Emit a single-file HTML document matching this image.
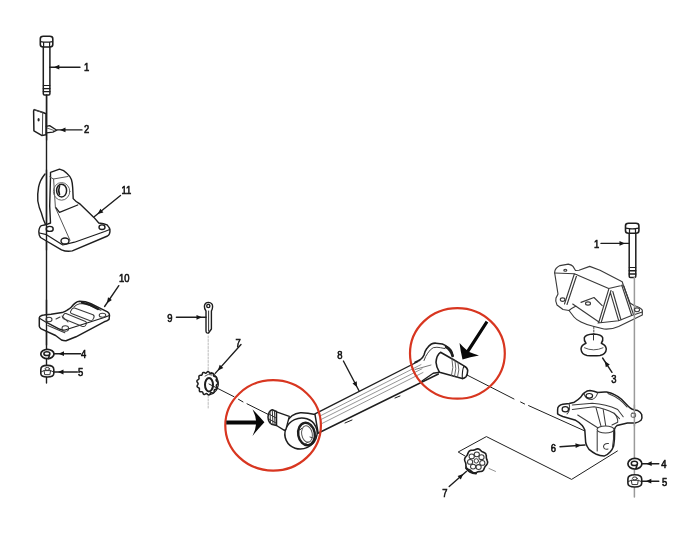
<!DOCTYPE html>
<html><head><meta charset="utf-8">
<style>
html,body{margin:0;padding:0;background:#fff;width:696px;height:550px;overflow:hidden}
svg{display:block;filter:blur(0.3px)}
</style></head><body>
<svg width="696" height="550" viewBox="0 0 696 550">
<g fill="none" stroke="#1e1e1e" stroke-width="1.4" stroke-linejoin="round" stroke-linecap="round">
<line x1="46.5" y1="95" x2="46.5" y2="383" stroke-width="1.4"/>
<rect x="43.3" y="46" width="6.600000000000001" height="49" rx="1.2" fill="#fff" stroke-width="1.5"/>
<path d="M40.3,38.7 Q40.3,36.2 43.3,36.2 L49.8,36.2 Q52.8,36.2 52.8,38.7 L52.8,44.5 Q52.8,47 49.8,47 L43.3,47 Q40.3,47 40.3,44.5 Z" fill="#fff" stroke-width="1.6"/>
<path d="M40.599999999999994,41.6 Q46.55,42.800000000000004 52.5,41.6 M43.599999999999994,42.4 L43.599999999999994,47 M49.6,42.4 L49.6,47" stroke-width="1.2"/>
<line x1="43.3" y1="85.5" x2="49.9" y2="85.5" stroke-width="1.0"/>
<line x1="43.3" y1="88.6" x2="49.9" y2="88.6" stroke-width="1.4"/>
<line x1="43.3" y1="91.6" x2="49.9" y2="91.6" stroke-width="1.4"/>
<line x1="80.0" y1="67.2" x2="49.8" y2="67.2" stroke-width="1.4"/>
<path d="M53.8,67.2 L59.3,64.8 L59.3,69.6 Z" fill="#151515" stroke="none"/>
<path d="M34.2,109.6 L43,112.5 L46,113.8 L46,134.8 L41.7,135.4 L33.9,130.8 L33.6,111 Z" fill="#fff" stroke-width="1.5"/>
<path d="M34.5,110 L42.7,112.5 L42.4,134.8" stroke="#444" stroke-width="1"/>
<ellipse cx="38.6" cy="119.7" rx="1.1" ry="1.8" fill="#222" stroke="none"/>
<path d="M46.3,126.3 L49.6,125.6 L56.8,130.2 L52.9,132.1 L46.3,132.8" fill="#fff" stroke-width="1.3"/>
<path d="M47,128 L54,130.5" stroke="#555" stroke-width="0.9"/>
<line x1="46.6" y1="95" x2="46.6" y2="140" stroke-width="1.4"/>
<line x1="82.0" y1="129.9" x2="57.0" y2="129.9" stroke-width="1.4"/>
<path d="M60.0,129.9 L65.5,127.5 L65.5,132.3 Z" fill="#151515" stroke="none"/>
<path d="M45,174 Q40,180 38.6,187 Q37.3,194 37.8,201 Q39,208 41.4,213 Q42.5,217 43.6,220 L45.6,224.8"/>
<path d="M50.5,172.3 L59.5,169.1 Q64,170 66.8,173.2 Q70,176 71.4,179.5 Q72.5,183 72.7,187.7 L73.2,198.6 Q76,202 80,204 L93.9,217.4 L98.8,223 Q104,223.5 107,224.8 Q110.2,228 110,231 Q109.8,234.8 107.5,236 L72.3,250.9 Q66.5,252 61.5,249.8 L40.5,237.5 Q38.7,235 38.8,231.5 Q39.3,226.5 41.5,225.6 L45.6,224.8 L50.5,223 L49.7,206 L50.5,177.3 Z" fill="#fff"/>
<line x1="46.5" y1="170" x2="46.5" y2="250" stroke-width="1.4"/>
<path d="M49.8,176.8 L53.4,179 L68,176.5 M53.6,179 L55.4,207.5 L70,240.3" stroke="#555" stroke-width="1"/>
<path d="M55.9,207.7 L59.5,212.3 L77.7,205" stroke-width="1.3"/>
<ellipse cx="61.6" cy="191.4" rx="8.2" ry="8.8" stroke="#666" stroke-width="1"/>
<ellipse cx="61.6" cy="190.6" rx="5" ry="6.4" stroke-width="1.5"/>
<path d="M59.5,186.5 Q57.8,190.5 59.5,194.5" stroke-width="1.6"/>
<ellipse cx="49.7" cy="228.9" rx="3.5" ry="2.5"/>
<ellipse cx="65" cy="241" rx="4" ry="3"/>
<ellipse cx="102" cy="227.2" rx="3" ry="2.3"/>
<path d="M39.5,233 L46.5,234.7 L62.8,245 L74.5,242.2 L104.7,231.5 L109.8,229.5" stroke-width="1.2"/>
<line x1="120.5" y1="195.5" x2="94.5" y2="216.5" stroke-width="1.4"/>
<path d="M97.6,214.0 L100.4,208.7 L103.4,212.4 Z" fill="#151515" stroke="none"/>
<path d="M39.9,316.5 Q41.5,315 43.8,314.9 L51,314.2 L62.1,312.6 Q65.5,311.5 67.4,310 Q70,308.5 71.4,307 Q73.5,304.5 75.5,302.9 Q77.5,301.3 79.6,301.3 L85.3,301.7 Q88.5,302.5 91,303.7 L100.9,308.7 L107.5,311.9 Q109.5,313.2 109.5,315.2 L109.1,319.3 Q107,321 104.2,321.8 L76,336.8 L66,340.7 Q63.5,340.8 61.5,340 L55.6,335.5 L41.2,328.9 Q39.3,327.5 39.3,326.3 L39.3,317.8 Z" fill="#fff" stroke-width="1.5"/>
<line x1="46.5" y1="300" x2="46.5" y2="345" stroke-width="1.4"/>
<path d="M39.9,318.5 L46.5,322.4 L58.9,328.9 Q62,330.5 65,330 L104.2,317.5 L109.3,315.5" stroke-width="1.2"/>
<g stroke="#3a3a3a" stroke-width="1.05">
<path d="M73.9,307 Q76.5,304.2 79.6,303.7 L86.1,303.7 L100.9,310.3"/>
<path d="M74.5,308 L93,314.8 Q95,316 93.5,318.5 L92.5,320 Q91.5,321 89.5,320.5 L71.5,313.5 Q69.8,312.5 70.8,311 L72,309 Q73,307.8 74.5,308 Z"/>
<path d="M66,313.5 L85.5,321.5 Q87.2,322.5 86,324.5 L85,326 Q84,327 82,326.3 L63.5,318.8 Q62,318 62.8,316.3 L63.8,314.5 Q64.5,313.2 66,313.5 Z"/>
<path d="M47.8,325.6 L64.8,332.8 M62,316 L68,322 M56,319 L60,317"/>
<ellipse cx="102.5" cy="315.2" rx="3.3" ry="2"/>
<ellipse cx="49" cy="319.5" rx="3" ry="2.2"/>
<ellipse cx="65.3" cy="328.5" rx="3.3" ry="2.8"/>
</g>
<path d="M82,302.6 Q90,304 98,309" stroke-width="2.2"/>
<line x1="118.8" y1="285.7" x2="104.6" y2="306.5" stroke-width="1.4"/>
<path d="M106.9,303.2 L108.0,297.3 L111.9,300.0 Z" fill="#151515" stroke="none"/>
<ellipse cx="47.4" cy="354" rx="6.6" ry="4.6" fill="#fff" stroke-width="1.7"/>
<ellipse cx="46.9" cy="353.7" rx="3.0" ry="1.9" stroke-width="1.5"/>
<path d="M48.4,358.6 L49.4,355.38" stroke-width="1.6"/>
<line x1="80.6" y1="353.7" x2="54.5" y2="353.7" stroke-width="1.4"/>
<path d="M58.5,353.7 L64.0,351.3 L64.0,356.1 Z" fill="#151515" stroke="none"/>
<path d="M40.8,369.46 Q40.8,365.4 47.3,365.4 Q53.8,365.4 53.8,369.46 L53.8,373.52 Q53.8,377.0 47.3,377.0 Q40.8,377.0 40.8,373.52 Z" fill="#fff" stroke-width="1.6"/>
<path d="M41.3,371.78 L44.05,370.62 L50.55,370.62 L53.3,371.78 M44.05,370.62 L44.699999999999996,374.68 L49.9,374.68 L50.55,370.62" stroke="#333" stroke-width="1"/>
<ellipse cx="47.3" cy="368.88" rx="2.3" ry="1.4" stroke="#333" stroke-width="1"/>
<line x1="77.4" y1="372.0" x2="54.0" y2="372.0" stroke-width="1.4"/>
<path d="M58.0,372.0 L63.5,369.6 L63.5,374.4 Z" fill="#151515" stroke="none"/>
<path d="M206,331 L206,311 Q204.2,309 204.4,306 Q205,302.4 208.5,302.4 Q212.6,302.8 212.6,306.5 Q212.5,309.5 211.4,311 L211.4,329 L208.5,333 Q206,333.5 206,331 Z" fill="#fff" stroke-width="1.4"/>
<circle cx="208.3" cy="306" r="1.6"/>
<line x1="208.6" y1="311" x2="208.6" y2="331" stroke-width="0.9"/>
<line x1="176.4" y1="317.3" x2="206.0" y2="317.3" stroke-width="1.4"/>
<path d="M202.0,317.3 L196.5,319.7 L196.5,314.9 Z" fill="#151515" stroke="none"/>
<line x1="208.2" y1="336" x2="208.2" y2="408" stroke-dasharray="2,1.5" stroke="#aaa" stroke-width="0.8"/>
<path d="M217.8,383.3 L217.6,383.7 L217.4,384.0 L217.1,384.3 L216.8,384.6 L216.5,384.9 L216.4,385.2 L216.3,385.5 L216.4,385.9 L216.5,386.3 L216.6,386.7 L216.8,387.1 L216.9,387.5 L217.0,388.0 L216.9,388.3 L216.7,388.6 L216.4,388.9 L216.1,389.1 L215.7,389.2 L215.3,389.3 L214.9,389.5 L214.6,389.6 L214.4,389.8 L214.3,390.1 L214.2,390.5 L214.2,390.9 L214.1,391.4 L214.1,391.9 L214.0,392.3 L213.8,392.6 L213.5,392.8 L213.2,393.0 L212.8,393.0 L212.4,392.9 L212.0,392.8 L211.6,392.7 L211.3,392.7 L211.0,392.7 L210.7,392.9 L210.5,393.1 L210.3,393.5 L210.1,393.9 L209.8,394.3 L209.6,394.6 L209.3,394.8 L209.0,395.0 L208.6,394.9 L208.3,394.8 L207.9,394.5 L207.6,394.3 L207.3,394.0 L207.0,393.7 L206.7,393.6 L206.4,393.5 L206.1,393.6 L205.8,393.8 L205.5,394.0 L205.1,394.2 L204.7,394.4 L204.4,394.5 L204.0,394.5 L203.7,394.4 L203.5,394.1 L203.2,393.7 L203.1,393.3 L202.9,392.9 L202.8,392.5 L202.6,392.2 L202.4,392.0 L202.1,391.8 L201.8,391.8 L201.4,391.8 L201.0,391.8 L200.5,391.8 L200.2,391.8 L199.8,391.6 L199.6,391.4 L199.4,391.0 L199.4,390.6 L199.3,390.2 L199.4,389.7 L199.4,389.3 L199.4,388.9 L199.4,388.5 L199.2,388.3 L199.0,388.0 L198.6,387.8 L198.3,387.7 L197.9,387.4 L197.5,387.2 L197.3,386.9 L197.1,386.6 L197.1,386.2 L197.2,385.8 L197.3,385.4 L197.5,385.0 L197.8,384.6 L197.9,384.3 L198.1,383.9 L198.1,383.6 L198.0,383.3 L197.8,383.0 L197.6,382.6 L197.3,382.3 L197.1,381.9 L196.9,381.5 L196.9,381.1 L197.0,380.7 L197.2,380.4 L197.4,380.1 L197.8,379.9 L198.2,379.6 L198.5,379.4 L198.8,379.2 L199.0,378.9 L199.0,378.6 L199.1,378.3 L199.0,377.8 L198.9,377.4 L198.9,376.9 L198.9,376.5 L199.0,376.1 L199.1,375.8 L199.4,375.6 L199.8,375.4 L200.2,375.3 L200.6,375.3 L201.0,375.3 L201.3,375.3 L201.6,375.2 L201.9,375.0 L202.1,374.7 L202.2,374.3 L202.3,373.9 L202.4,373.5 L202.6,373.1 L202.8,372.7 L203.1,372.5 L203.4,372.4 L203.8,372.4 L204.1,372.5 L204.5,372.7 L204.9,372.9 L205.2,373.1 L205.6,373.2 L205.9,373.2 L206.1,373.0 L206.4,372.8 L206.7,372.5 L207.0,372.2 L207.3,371.9 L207.6,371.7 L208.0,371.5 L208.3,371.6 L208.6,371.7 L208.9,372.0 L209.2,372.3 L209.4,372.7 L209.7,373.0 L209.9,373.3 L210.2,373.5 L210.4,373.6 L210.8,373.6 L211.1,373.5 L211.5,373.4 L211.9,373.2 L212.3,373.2 L212.7,373.2 L213.0,373.3 L213.2,373.6 L213.4,373.9 L213.5,374.4 L213.6,374.8 L213.6,375.3 L213.7,375.7 L213.8,376.0 L214.0,376.3 L214.3,376.4 L214.6,376.6 L215.0,376.6 L215.4,376.7 L215.8,376.9 L216.2,377.0 L216.4,377.3 L216.6,377.6 L216.6,378.0 L216.6,378.4 L216.5,378.9 L216.3,379.3 L216.2,379.7 L216.1,380.1 L216.2,380.4 L216.3,380.7 L216.5,381.0 L216.8,381.3 L217.1,381.6 L217.4,381.9 L217.7,382.2 L217.8,382.6 L217.9,382.9 Z" fill="#fff" stroke-width="1.5"/>
<path d="M211,372.5 Q218.5,376 218.3,385 Q217,392.5 210.5,394.5" stroke-width="1.3"/>
<ellipse cx="209" cy="384.7" rx="4" ry="6.8" stroke-width="2"/>
<path d="M205,376 Q208,373 212,375" stroke="#555" stroke-width="1"/>
<line x1="241.0" y1="344.5" x2="215.2" y2="373.4" stroke-width="1.4"/>
<path d="M217.9,370.4 L219.7,364.7 L223.3,367.9 Z" fill="#151515" stroke="none"/>
<path d="M209,384 L234,396.7 M238.5,399.3 L243,401.9 M247,403.8 L269,414.8" stroke-width="1"/>
<path d="M315,413.8 L422,359.5" stroke-width="1.4"/>
<path d="M317.4,433.5 L438.4,374" stroke-width="1.4"/>
<path d="M320,416 L421,364.6 M321,419.5 L422,368.8 M322,423.5 L423,372.5" stroke="#8a8a8a" stroke-width="0.9"/>
<path d="M345,423 L352,420 M395,398 L400,396" stroke-width="1"/>
<line x1="343.4" y1="361.0" x2="359.0" y2="390.8" stroke-width="1.4"/>
<path d="M357.1,387.3 L352.5,383.5 L356.7,381.3 Z" fill="#151515" stroke="none"/>
<path d="M286,423 Q291,413.5 300.3,412.7 Q307,412.5 315,414.5 L318,432.3" fill="#fff" stroke-width="1.5"/>
<ellipse cx="301" cy="433.5" rx="16.3" ry="15.3" transform="rotate(-25 301 433.5)" fill="#fff" stroke-width="1.5"/>
<ellipse cx="306.5" cy="434" rx="8.3" ry="11.3" transform="rotate(-10 306.5 434)" fill="#fff" stroke-width="2.4"/>
<ellipse cx="307" cy="434" rx="5.3" ry="8.3" transform="rotate(-10 307 434)" stroke="#555" stroke-width="1"/>
<path d="M300,430 L302,428 M305,444 L308,442 M311,427 L309,424 M313,438 L310,437" stroke="#444" stroke-width="1"/>
<path d="M276.5,411.8 L289.3,416.4 L286,429 L284.4,430.4 L276.5,425.5" fill="#fff" stroke-width="1.3"/>
<path d="M272.2,409.7 L276.5,411.5 L276.5,425.5 L271.5,424.2 Q268.2,422 268,417 Q268.3,411 272.2,409.7 Z" fill="#fff" stroke-width="1.5"/>
<path d="M270,411.5 L270.5,423.5 M272.3,410.5 L273,424.5 M274.5,411 L275,425 M269,414 L276,418 M269,419 L276,423" stroke="#333" stroke-width="1"/>
<path d="M415,362.3 Q418,361 420.5,359.5 Q423,357.5 424,355 Q425,351 426.8,348.6 Q429,345.5 431.4,344 Q433.5,343 436,343.2 L442.3,344 Q445,345 446.8,346.4 Q449,348 450.5,349.5 Q452,351.5 452.3,353.2 L453,356" fill="#fff" stroke-width="1.6"/>
<path d="M424,360.5 Q425.5,356 427.7,353.2 Q430,349.5 433.2,347.7 Q437,346.8 440.5,347.7 L445,348.6" stroke="#444" stroke-width="1"/>
<path d="M446,347 Q451,350 452.5,356" stroke-width="2.6"/>
<path d="M440.5,352.3 L453.2,359.5 L464,365.9 Q467.5,367.5 467.7,370.5 Q467.5,375 466,376.8 Q464.5,378.5 462.3,378.6 L459.5,377.7 L439.5,372.3 Q436.2,367 436,362.3 Q436.5,355 440.5,352.3 Z" fill="#fff" stroke-width="1.6"/>
<path d="M464,365.9 Q462,370 462.3,378.6" stroke-width="1.1"/>
<path d="M452,359 Q454,368 451.5,375.5 M455,360.5 Q457,369 454.5,376.5 M458,362.5 Q460,370 457.5,377.2" stroke="#555" stroke-width="0.9"/>
<path d="M415,369.5 L431,365" stroke="#555" stroke-width="0.8"/>
<path d="M422,381 L433.2,373.2 L439.5,372.3" stroke-width="1.4"/>
<path d="M467,375 L514,399 M520.6,402 L524.6,404 M528.6,405.6 L585.8,431.4" stroke-width="1"/>
<path d="M465,456 L458.2,452 L486.4,436.6 L571.6,479.4 L617.4,451" stroke-width="1"/>
<path d="M487.5,462.9 L487.4,463.3 L487.3,463.6 L487.1,464.0 L486.9,464.3 L486.7,464.6 L486.5,465.0 L486.2,465.2 L486.0,465.5 L485.7,465.8 L485.5,466.1 L485.3,466.3 L485.1,466.6 L484.9,466.9 L484.7,467.2 L484.6,467.6 L484.4,467.9 L484.3,468.2 L484.2,468.6 L484.0,469.0 L483.8,469.3 L483.7,469.7 L483.5,470.0 L483.2,470.3 L483.0,470.6 L482.7,470.8 L482.4,471.0 L482.0,471.2 L481.7,471.3 L481.3,471.4 L480.9,471.5 L480.6,471.5 L480.2,471.5 L479.8,471.5 L479.5,471.6 L479.1,471.6 L478.8,471.6 L478.5,471.7 L478.1,471.7 L477.8,471.8 L477.5,472.0 L477.2,472.1 L476.8,472.3 L476.5,472.4 L476.2,472.6 L475.8,472.7 L475.4,472.8 L475.1,472.9 L474.7,472.9 L474.3,473.0 L474.0,472.9 L473.6,472.8 L473.3,472.7 L473.0,472.5 L472.6,472.3 L472.3,472.1 L472.1,471.8 L471.8,471.6 L471.5,471.3 L471.3,471.1 L471.0,470.8 L470.7,470.6 L470.5,470.4 L470.2,470.2 L469.9,470.0 L469.6,469.9 L469.3,469.8 L469.0,469.6 L468.6,469.5 L468.3,469.3 L467.9,469.2 L467.6,469.0 L467.3,468.8 L467.0,468.5 L466.7,468.3 L466.5,468.0 L466.3,467.6 L466.2,467.3 L466.1,466.9 L466.0,466.6 L465.9,466.2 L465.9,465.8 L465.9,465.4 L465.9,465.0 L465.9,464.6 L465.9,464.3 L465.8,463.9 L465.8,463.6 L465.7,463.2 L465.6,462.9 L465.5,462.6 L465.4,462.2 L465.3,461.9 L465.1,461.5 L465.0,461.2 L464.8,460.8 L464.7,460.4 L464.7,460.0 L464.6,459.7 L464.6,459.3 L464.7,458.9 L464.8,458.5 L464.9,458.2 L465.1,457.8 L465.3,457.5 L465.5,457.2 L465.7,456.8 L466.0,456.6 L466.2,456.3 L466.5,456.0 L466.7,455.7 L466.9,455.5 L467.1,455.2 L467.3,454.9 L467.5,454.6 L467.6,454.2 L467.8,453.9 L467.9,453.6 L468.0,453.2 L468.2,452.8 L468.4,452.5 L468.5,452.1 L468.7,451.8 L469.0,451.5 L469.2,451.2 L469.5,451.0 L469.8,450.8 L470.2,450.6 L470.5,450.5 L470.9,450.4 L471.3,450.3 L471.6,450.3 L472.0,450.3 L472.4,450.3 L472.7,450.2 L473.1,450.2 L473.4,450.2 L473.7,450.1 L474.1,450.1 L474.4,450.0 L474.7,449.8 L475.0,449.7 L475.4,449.5 L475.7,449.4 L476.0,449.2 L476.4,449.1 L476.8,449.0 L477.1,448.9 L477.5,448.9 L477.9,448.8 L478.2,448.9 L478.6,449.0 L478.9,449.1 L479.2,449.3 L479.6,449.5 L479.9,449.7 L480.1,450.0 L480.4,450.2 L480.7,450.5 L480.9,450.7 L481.2,451.0 L481.5,451.2 L481.7,451.4 L482.0,451.6 L482.3,451.8 L482.6,451.9 L482.9,452.0 L483.2,452.2 L483.6,452.3 L483.9,452.5 L484.3,452.6 L484.6,452.8 L484.9,453.0 L485.2,453.3 L485.5,453.5 L485.7,453.8 L485.9,454.2 L486.0,454.5 L486.1,454.9 L486.2,455.2 L486.3,455.6 L486.3,456.0 L486.3,456.4 L486.3,456.8 L486.3,457.2 L486.3,457.5 L486.4,457.9 L486.4,458.2 L486.5,458.6 L486.6,458.9 L486.7,459.2 L486.8,459.6 L486.9,459.9 L487.1,460.3 L487.2,460.6 L487.4,461.0 L487.5,461.4 L487.5,461.8 L487.6,462.1 L487.6,462.5 Z" fill="#fff" stroke-width="1.6"/>
<ellipse cx="482.3" cy="462.9" rx="2.6" ry="2.4" stroke="#3a3a3a" stroke-width="1.05"/>
<ellipse cx="478.6" cy="467.0" rx="2.6" ry="2.4" stroke="#3a3a3a" stroke-width="1.05"/>
<ellipse cx="473.1" cy="466.6" rx="2.6" ry="2.4" stroke="#3a3a3a" stroke-width="1.05"/>
<ellipse cx="470.1" cy="461.9" rx="2.6" ry="2.4" stroke="#3a3a3a" stroke-width="1.05"/>
<ellipse cx="471.7" cy="456.4" rx="2.6" ry="2.4" stroke="#3a3a3a" stroke-width="1.05"/>
<ellipse cx="476.8" cy="454.3" rx="2.6" ry="2.4" stroke="#3a3a3a" stroke-width="1.05"/>
<ellipse cx="481.5" cy="457.2" rx="2.6" ry="2.4" stroke="#3a3a3a" stroke-width="1.05"/>
<circle cx="476.3" cy="460.9" r="2.2" stroke="#3a3a3a" stroke-width="1"/>
<path d="M466,468 Q469,473 476,473.5" stroke-width="2"/>
<path d="M489,468.5 L495.5,471.4" stroke="#777" stroke-width="0.8"/>
<line x1="449.2" y1="486.5" x2="466.3" y2="471.4" stroke-width="1.4"/>
<path d="M463.3,474.0 L460.8,479.5 L457.6,475.9 Z" fill="#151515" stroke="none"/>
<rect x="629.2" y="232.2" width="6.599999999999909" height="45.30000000000001" rx="1.2" fill="#fff" stroke-width="1.5"/>
<path d="M625.5,225.7 Q625.5,223.2 628.5,223.2 L635.9,223.2 Q638.9,223.2 638.9,225.7 L638.9,230.7 Q638.9,233.2 635.9,233.2 L628.5,233.2 Q625.5,233.2 625.5,230.7 Z" fill="#fff" stroke-width="1.6"/>
<path d="M625.8,228.2 Q632.2,229.39999999999998 638.6,228.2 M629.5,229.0 L629.5,233.2 M635.5,229.0 L635.5,233.2" stroke-width="1.2"/>
<line x1="629.2" y1="267.5" x2="635.8" y2="267.5" stroke-width="1.0"/>
<line x1="629.2" y1="270.8" x2="635.8" y2="270.8" stroke-width="1.4"/>
<line x1="629.2" y1="274" x2="635.8" y2="274" stroke-width="1.4"/>
<line x1="601.0" y1="243.4" x2="629.0" y2="243.4" stroke-width="1.4"/>
<path d="M625.0,243.4 L619.5,245.8 L619.5,241.0 Z" fill="#151515" stroke="none"/>
<g stroke="#3a3a3a" stroke-width="1.15">
<path d="M554.6,272.5 Q555,268 560,265.6 L568.3,264.1 Q572,265 573,266.4 L575.5,270.5 L579,270.2 L589.7,266.4 L600,270.2 L622.2,281.8 L623.4,285.4 L630,303 L634,305.5 Q640,307 642.3,310.2 L642.3,315 L618.6,326.5 Q612,329.5 604,329 L594,326.5 Q587,325 581,322 Q576,319.5 574,317 L569,310.5 L563,309.5 L557,305 Q555,301 556,298 L558,294 Z" fill="#fff"/>
<path d="M554.6,273 L574.4,273.7 L608.7,288.5 L622.7,285.2 M574.4,273.7 L564.5,304 M577,274.5 L567,304.5 M608.7,289.3 L598.9,322 M611,290.5 L601.2,322.5 M610.4,292.6 L618.6,320.4 M612.8,291.5 L621,320 M621.8,285.2 L631.7,315.5 M623.8,286 L633.5,314.5 M572.7,304 L598.9,322 M581,302.4 L594,297.5 L602.2,305.6 M598,323 L618.6,320.8 L631.7,315.5 L642.3,312 M569,310.5 Q572,308 576,306"/>
<ellipse cx="562.6" cy="299.6" rx="2.3" ry="1.8"/>
<ellipse cx="588" cy="303.5" rx="2.5" ry="1.6"/>
<ellipse cx="565.3" cy="270.2" rx="1.5" ry="1"/>
</g>
<line x1="634.4" y1="277" x2="634.4" y2="497" stroke="#9a9a9a" stroke-width="1.5"/>
<ellipse cx="637" cy="309.8" rx="2.6" ry="1.9" stroke="#3a3a3a" stroke-width="1.1"/>
<path d="M593.8,326.5 L593.8,335" stroke="#444" stroke-width="1" stroke-dasharray="2,1.5"/>
<path d="M586,343.2 Q583.8,340.5 584.3,337.8 Q585.5,334.2 593.5,333.9 Q601.5,334.2 602.7,337.8 Q603.3,340.5 601.3,343.2 Q605.8,345 606.3,349 Q606,354.2 600,355.4 Q593.5,356.2 587,355.4 Q581.5,354.5 581,349 Q581.3,345 586,343.2 Z" fill="#fff" stroke-width="1.5"/>
<path d="M584.5,347.8 Q593.5,352 603,347.8" stroke="#555" stroke-width="1"/>
<path d="M593.5,334 L593.5,340" stroke="#333" stroke-width="1"/>
<line x1="612.0" y1="372.3" x2="602.6" y2="358.0" stroke-width="1.4"/>
<path d="M604.8,361.3 L609.8,364.6 L605.8,367.3 Z" fill="#151515" stroke="none"/>
<path d="M557.6,410 Q557.5,407 558.9,406.1 Q560.5,404.5 562.8,404.2 L569.2,403.5 L574.4,402.2 Q578,400 580.9,397 Q582.5,394 584.8,392.5 Q587,390.8 590,390.6 L593.8,391.2 L597.7,392.5 Q602,391.8 606.7,392 Q611,392.8 614,394.4 Q618.5,396.5 621.5,399.3 Q625.5,403.5 628.5,406.5 Q630,408 631.8,409 Q634.5,410.3 637.8,410.6 Q640.5,412 641.7,414.5 Q642.5,418 641,420.3 Q638.5,422.5 635.2,422.9 L627.4,422.9 L617,425.5 Q615,427 614.4,429.5 L614.6,433 L614.4,439.5 Q614,443.5 613.6,446.1 Q612.5,449.5 610.3,451.8 Q607.5,455 604.5,455.9 Q600,456 596.4,454.3 Q592,452 589,449.4 Q586.5,446 585.7,442.8 L584.8,430 Q583.5,427 582.2,425.5 Q579,422 575.7,420.3 L562.8,416.5 Q559,415 557.6,413.9 Z" fill="#fff" stroke-width="1.5"/>
<line x1="634.4" y1="405" x2="634.4" y2="426" stroke="#9a9a9a" stroke-width="1.5"/>
<g stroke="#3c3c3c" stroke-width="1.05">
<path d="M572.3,405 L592.3,403.2 Q606,404 617.7,409.5 L623.2,416.8 M572.3,409.5 L594,406.8 Q605,408.5 614,413.2 L619.5,418.6"/>
<path d="M596,407.7 L601.4,427.7 M603.2,409.5 L606,427.7 M577.7,415 L597.7,427.7 M614,413.2 Q618,417 617.7,422.3 L612,425"/>
<path d="M584,394 Q586,399.5 592,399.5 Q596.5,398 597.5,393 M569,403.5 Q571,410 567,414 M608,393.5 Q620,398 627,407"/>
<ellipse cx="605.5" cy="429.5" rx="8.5" ry="3.5" fill="#fff"/>
<path d="M597.2,431 L597.2,451 M613.5,431 Q614,440 612.5,447"/>
<path d="M608.5,443.5 Q604,443 603.5,446.5 Q604,450 608,449"/>
</g>
<ellipse cx="589.3" cy="395.8" rx="3.3" ry="2.3" stroke-width="1.2"/>
<ellipse cx="565.3" cy="409.3" rx="3.2" ry="2.6" stroke-width="1.2"/>
<rect x="631.2" y="413.2" width="4.4" height="4" rx="1" stroke="#555" stroke-width="1"/>
<line x1="560.0" y1="446.7" x2="585.0" y2="445.0" stroke-width="1.4"/>
<path d="M581.0,445.3 L575.7,448.0 L575.4,443.3 Z" fill="#151515" stroke="none"/>
<ellipse cx="634.9" cy="463.7" rx="7" ry="5.3" fill="#fff" stroke-width="1.7"/>
<ellipse cx="634.4" cy="463.4" rx="3.1" ry="2.2" stroke-width="1.5"/>
<path d="M635.9,469.0 L636.9,465.28999999999996" stroke-width="1.6"/>
<line x1="658.8" y1="463.7" x2="642.2" y2="463.7" stroke-width="1.4"/>
<path d="M646.2,463.7 L651.7,461.3 L651.7,466.1 Z" fill="#151515" stroke="none"/>
<path d="M627.9,479.05499999999995 Q627.9,474.75 634.8,474.75 Q641.6999999999999,474.75 641.6999999999999,479.05499999999995 L641.6999999999999,483.35999999999996 Q641.6999999999999,487.04999999999995 634.8,487.04999999999995 Q627.9,487.04999999999995 627.9,483.35999999999996 Z" fill="#fff" stroke-width="1.6"/>
<path d="M628.4,481.515 L631.3499999999999,480.28499999999997 L638.25,480.28499999999997 L641.1999999999999,481.515 M631.3499999999999,480.28499999999997 L632.04,484.59 L637.56,484.59 L638.25,480.28499999999997" stroke="#333" stroke-width="1"/>
<ellipse cx="634.8" cy="478.44" rx="2.4" ry="1.5" stroke="#333" stroke-width="1"/>
<line x1="658.8" y1="481.2" x2="641.8" y2="481.2" stroke-width="1.4"/>
<path d="M645.8,481.2 L651.3,478.8 L651.3,483.6 Z" fill="#151515" stroke="none"/>
</g>
<g fill="none" stroke="#d83620" stroke-width="2.2">
<ellipse cx="273.1" cy="425.4" rx="47.8" ry="45.2"/>
<ellipse cx="457.4" cy="353.4" rx="47.4" ry="45.3"/>
</g>
<g fill="#080808">
<path d="M264.4,422.2 Q258,415 252.5,409.3 Q255.5,415.5 256,420.4 L226.3,420.4 L226.3,424.4 L256,424.4 Q255.5,430 252.5,435.9 Q258,429 264.4,422.2 Z"/>
<path d="M462.5,359.5 Q460.5,351 459.5,343 Q463.5,347.5 466.7,350.1 L485.7,320.8 L488.3,322.6 L469.3,351.9 Q473.5,353.5 479,355.5 Q470,357 462.5,359.5 Z"/>
</g>
<g style="font-family:'Liberation Sans',sans-serif" font-size="11" fill="#111" stroke="#111" stroke-width="0.6">
<text transform="translate(83.9,71.2) scale(0.86,1)">1</text>
<text transform="translate(83.9,133) scale(0.86,1)">2</text>
<text transform="translate(121.4,193.6) scale(0.86,1)">11</text>
<text transform="translate(118.9,282) scale(0.86,1)">10</text>
<text transform="translate(80.9,357.8) scale(0.86,1)">4</text>
<text transform="translate(77.9,376.2) scale(0.86,1)">5</text>
<text transform="translate(167.20000000000002,321.8) scale(0.86,1)">9</text>
<text transform="translate(235.6,346.6) scale(0.86,1)">7</text>
<text transform="translate(337.2,359.2) scale(0.86,1)">8</text>
<text transform="translate(593.9,248.2) scale(0.86,1)">1</text>
<text transform="translate(611.1999999999999,383) scale(0.86,1)">3</text>
<text transform="translate(550.6999999999999,451.6) scale(0.86,1)">6</text>
<text transform="translate(661.1999999999999,467.6) scale(0.86,1)">4</text>
<text transform="translate(662.0,486) scale(0.86,1)">5</text>
<text transform="translate(442.2,496.6) scale(0.86,1)">7</text>
</g>
</svg>
</body></html>
